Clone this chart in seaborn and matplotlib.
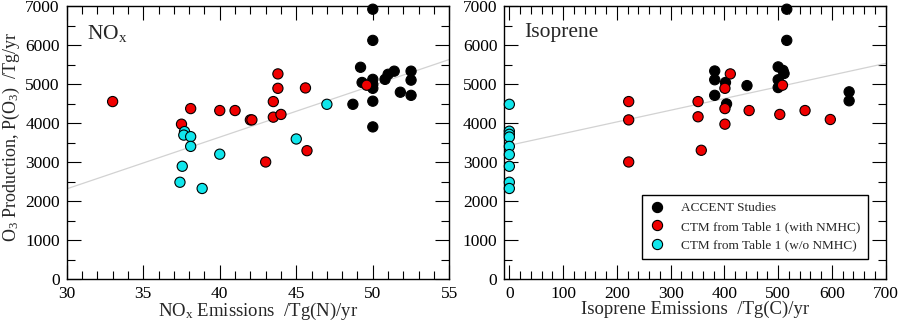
import numpy as np
import pandas as pd
import seaborn as sns
import matplotlib
matplotlib.use('Agg')
import matplotlib.pyplot as plt
from matplotlib.ticker import MultipleLocator

# ==========================================
# DATOS
# ==========================================

GROUPS = ['ACCENT Studies', 'CTM from Table 1 (with NMHC)', 'CTM from Table 1 (w/o NMHC)']
COLORS = ['#000000', '#f00000', '#10e6ec']

# -- panel NOx --
nox_accent = [50.0, 50.0, 49.2, 49.3, 50.0, 50.0, 50.0, 50.0, 50.0, 48.7,
              50.8, 51.0, 51.4, 51.8, 52.5, 52.5, 52.5]
prod_nox_accent = [6930, 6130, 5440, 5050, 5130, 5000, 4900, 4570, 3910, 4490,
                   5130, 5260, 5340, 4800, 5340, 5110, 4720]

nox_nmhc = [33.0, 37.5, 38.1, 40.0, 41.0, 42.0, 42.1, 43.0, 43.5, 43.5,
            43.8, 43.8, 44.0, 45.6, 45.7, 49.6]
prod_nox_nmhc = [4560, 3980, 4380, 4330, 4330, 4090, 4090, 3010, 4560, 4160,
                 5270, 4900, 4230, 4910, 3300, 4980]

nox_no_nmhc = [37.7, 37.65, 38.1, 38.1, 40.0, 37.55, 37.4, 38.85, 45.0, 47.0]
prod_nox_no_nmhc = [3790, 3700, 3660, 3410, 3210, 2900, 2490, 2330, 3600, 4490]

fit_nox_x = [30, 55]
fit_nox_y = [2320, 5640]

# -- panel isopreno --
iso_accent = [382, 382, 382, 402, 404, 442, 500, 500, 500, 509, 511, 516, 516, 632, 632]
prod_iso_accent = [5345, 5120, 4720, 5050, 4500, 4970, 5450, 5120, 4920, 5360,
                   5280, 6930, 6130, 4810, 4580]

iso_nmhc = [222, 222, 222, 351, 351, 357, 401, 401, 401, 411, 446, 503, 508, 550, 597]
prod_iso_nmhc = [4560, 4090, 3010, 4560, 4170, 3310, 4900, 4380, 3980, 5270,
                 4330, 4230, 4980, 4330, 4100]

iso_no_nmhc = [0, 0, 0, 0, 0, 0, 0, 0, 0]
prod_iso_no_nmhc = [4490, 3800, 3720, 3650, 3410, 3200, 2900, 2490, 2330]

fit_iso_x = [-9, 700]
fit_iso_y = [3410, 5540]

# ==========================================
# DATAFRAMES
# ==========================================

def build(xs, ys):
    frames = []
    for g, x, y in zip(GROUPS, xs, ys):
        frames.append(pd.DataFrame({'x': x, 'y': y, 'Source': g}))
    return pd.concat(frames, ignore_index=True)

df_nox = build([nox_accent, nox_nmhc, nox_no_nmhc],
               [prod_nox_accent, prod_nox_nmhc, prod_nox_no_nmhc])
df_iso = build([iso_accent, iso_nmhc, iso_no_nmhc],
               [prod_iso_accent, prod_iso_nmhc, prod_iso_no_nmhc])

# ==========================================
# ESTILO
# ==========================================

sns.set_theme(style='white')
plt.rcParams['font.family'] = ['Liberation Serif', 'DejaVu Serif']
plt.rcParams['mathtext.fontset'] = 'custom'
plt.rcParams['mathtext.rm'] = 'Liberation Serif'
plt.rcParams['mathtext.it'] = 'Liberation Serif:italic'
plt.rcParams['axes.edgecolor'] = 'black'
plt.rcParams['axes.linewidth'] = 1.0

palette = dict(zip(GROUPS, COLORS))

fig = plt.figure(figsize=(8.99, 3.24), dpi=100)
ax1 = fig.add_axes([0.0742, 0.138, 0.4256, 0.842])
ax2 = fig.add_axes([0.5610, 0.138, 0.4242, 0.842])

for ax, df, fx, fy in [(ax1, df_nox, fit_nox_x, fit_nox_y),
                       (ax2, df_iso, fit_iso_x, fit_iso_y)]:
    ax.plot(fx, fy, color='#d2d2d2', lw=0.9, zorder=1)
    sns.scatterplot(data=df, x='x', y='y', hue='Source', hue_order=GROUPS,
                    palette=palette, s=54, edgecolor='black', linewidth=0.8,
                    clip_on=False, zorder=3, ax=ax, legend=(ax is ax2))
    ax.set_ylim(0, 7000)
    ax.yaxis.set_major_locator(MultipleLocator(1000))
    ax.yaxis.set_minor_locator(MultipleLocator(500))
    ax.tick_params(which='both', direction='in', top=True, right=True,
                   bottom=True, left=True, labelsize=12.5, colors='black')
    ax.tick_params(which='major', length=10, width=0.8)
    ax.tick_params(which='minor', length=5.5, width=0.8)
    ax.tick_params(axis='y', pad=5)
    ax.tick_params(axis='x', pad=5)
    ax.set_ylabel('')
    ax.set_xlabel('')

ax1.set_xlim(30, 55)
ax1.xaxis.set_major_locator(MultipleLocator(5))
ax1.xaxis.set_minor_locator(MultipleLocator(1))
ax2.set_xlim(-9.3, 700)
ax2.xaxis.set_major_locator(MultipleLocator(100))
ax2.xaxis.set_minor_locator(MultipleLocator(20))

ax1.set_xlabel(r'NO$_\mathrm{x}$ Emissions  /Tg(N)/yr', fontsize=13.5, labelpad=-1)
ax2.set_xlabel('Isoprene Emissions  /Tg(C)/yr', fontsize=13.5, labelpad=-1)
ax1.set_ylabel(r'O$_3$ Production, P(O$_3$)  /Tg/yr', fontsize=13, labelpad=4)
ax1.yaxis.set_label_coords(-0.118, 0.52)

ax1.text(0.052, 0.88, r'NO$_\mathrm{x}$', transform=ax1.transAxes, fontsize=15.5,
         va='baseline', ha='left')
ax2.text(0.053, 0.887, 'Isoprene', transform=ax2.transAxes, fontsize=15.5,
         va='baseline', ha='left')

leg = ax2.legend(loc='lower right', bbox_to_anchor=(0.9528, 0.0746),
                 borderaxespad=0, fontsize=9.5, labelspacing=0.48,
                 borderpad=0.57, handlelength=1.13, handletextpad=1.25,
                 fancybox=False, framealpha=1, edgecolor='black', title=None)
leg.get_frame().set_linewidth(1.0)

fig.savefig('out.png', dpi=100)
